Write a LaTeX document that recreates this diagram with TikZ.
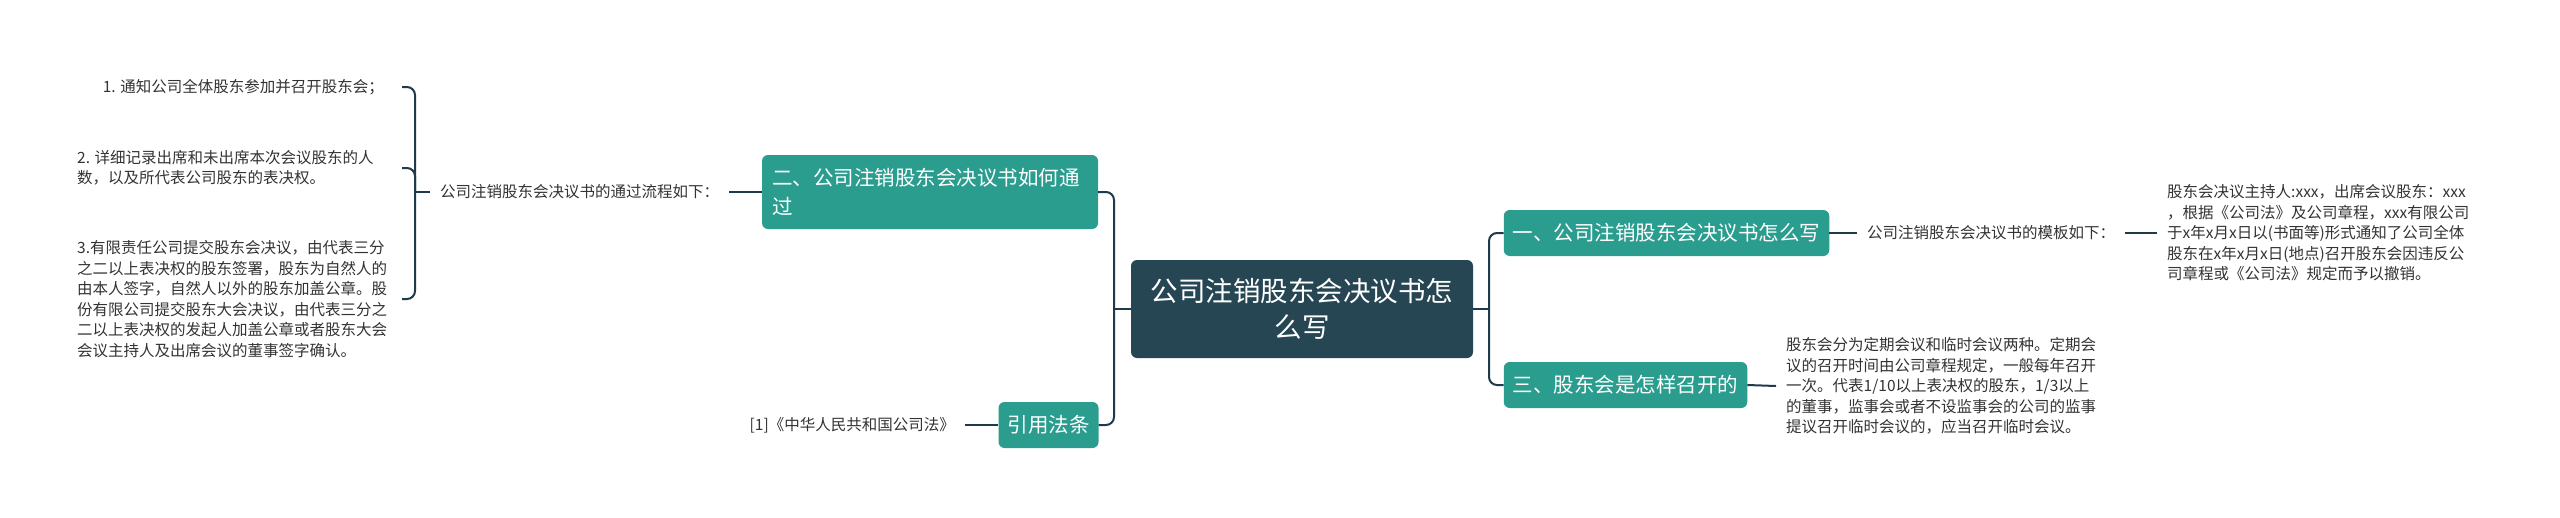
\documentclass[tikz,border=0pt]{standalone}
\usepackage{fontspec}
\setmainfont{Noto Sans CJK SC}
\usepackage{tikz}
\usetikzlibrary{positioning}
\usepackage{xcolor}
\definecolor{topicdark}{HTML}{264653}
\definecolor{topicteal}{HTML}{2A9D8F}
\definecolor{linkdark}{HTML}{1F3A4B}
\definecolor{textgray}{HTML}{333333}

\begin{document}
\begin{tikzpicture}[x=1pt,y=-1pt,
  link/.style={draw=linkdark, line width=2pt, rounded corners=8},
  rootbox/.style={fill=topicdark, text=white, rounded corners=6, align=center,
    minimum width=342, minimum height=98, font=\fontsize{27.5}{36}\selectfont},
  tealbox/.style={fill=topicteal, text=white, rounded corners=6, inner xsep=9,
    minimum height=46, font=\fontsize{20.5}{29}\selectfont},
  leaftext/.style={text=textgray, align=left, inner xsep=10, inner ysep=0,
    font=\fontsize{15.5}{20.5}\selectfont}]
  \fill[white] (0,0) rectangle (2560,517);
  \useasboundingbox (0,0) rectangle (2560,517);

  % Mitte
  \node[rootbox] (root) at (1302,309) {公司注销股东会决议书怎\\么写};

  % linke Seite
  \node[tealbox, text width=316, inner xsep=10, minimum height=74, align=left]
    (pass) at (930,192) {二、公司注销股东会决议书如何通\\过};
  \node[tealbox] (law) at (1048.5,425) {引用法条};
  \node[leaftext, anchor=east] (lawref) at (965,425) {[1]《中华人民共和国公司法》};
  \node[leaftext, anchor=west] (flow) at (430,192) {公司注销股东会决议书的通过流程如下：};
  \node[leaftext, anchor=east, inner xsep=0] (stepa) at (384,87)
    {1. 通知公司全体股东参加并召开股东会；};
  \node[leaftext, anchor=west, inner xsep=0] (stepb) at (77,168)
    {2. 详细记录出席和未出席本次会议股东的人\\数，以及所代表公司股东的表决权。};
  \node[leaftext, anchor=west, inner xsep=0] (stepc) at (77,299)
    {3.有限责任公司提交股东会决议，由代表三分\\之二以上表决权的股东签署，股东为自然人的\\由本人签字，自然人以外的股东加盖公章。股\\份有限公司提交股东大会决议，由代表三分之\\二以上表决权的发起人加盖公章或者股东大会\\会议主持人及出席会议的董事签字确认。};

  % rechte Seite
  \node[tealbox] (write) at (1666.5,233) {一、公司注销股东会决议书怎么写};
  \node[tealbox] (meeting) at (1625.5,385) {三、股东会是怎样召开的};
  \node[leaftext, anchor=west] (tmpl) at (1857,233) {公司注销股东会决议书的模板如下：};
  \node[leaftext, anchor=west] (tmplbody) at (2157,233)
    {股东会决议主持人:xxx，出席会议股东：xxx\\，根据《公司法》及公司章程，xxx有限公司\\于x年x月x日以(书面等)形式通知了公司全体\\股东在x年x月x日(地点)召开股东会因违反公\\司章程或《公司法》规定而予以撤销。};
  \node[leaftext, anchor=west] (meetbody) at (1776,386)
    {股东会分为定期会议和临时会议两种。定期会\\议的召开时间由公司章程规定，一般每年召开\\一次。代表1/10以上表决权的股东，1/3以上\\的董事，监事会或者不设监事会的公司的监事\\提议召开临时会议的，应当召开临时会议。};

  % Verbindungen
  \coordinate (lj) at (1114,309);
  \coordinate (rj) at (1489,309);
  \coordinate (bj) at (415,192);
  \coordinate (ta) at (402,87);
  \coordinate (tb) at (402,168);
  \coordinate (tc) at (402,299);
  \draw[link] (root.west) -- (lj);
  \draw[link] (pass.east) -| (lj) |- (law.east);
  \draw[link] (law.west) -- (lawref.east);
  \draw[link] (pass.west) -- (flow.east);
  \draw[link] (flow.west) -- (bj);
  \draw[link] (ta) -| (bj) |- (tc);
  \draw[link] (tb) -| (bj);
  \draw[link] (root.east) -- (rj);
  \draw[link] (write.west) -| (rj) |- (meeting.west);
  \draw[link] (write.east) -- (tmpl.west);
  \draw[link] (tmpl.east) -- (tmplbody.west);
  \draw[link] (meeting.east) -- (meetbody.west);
\end{tikzpicture}
\end{document}
